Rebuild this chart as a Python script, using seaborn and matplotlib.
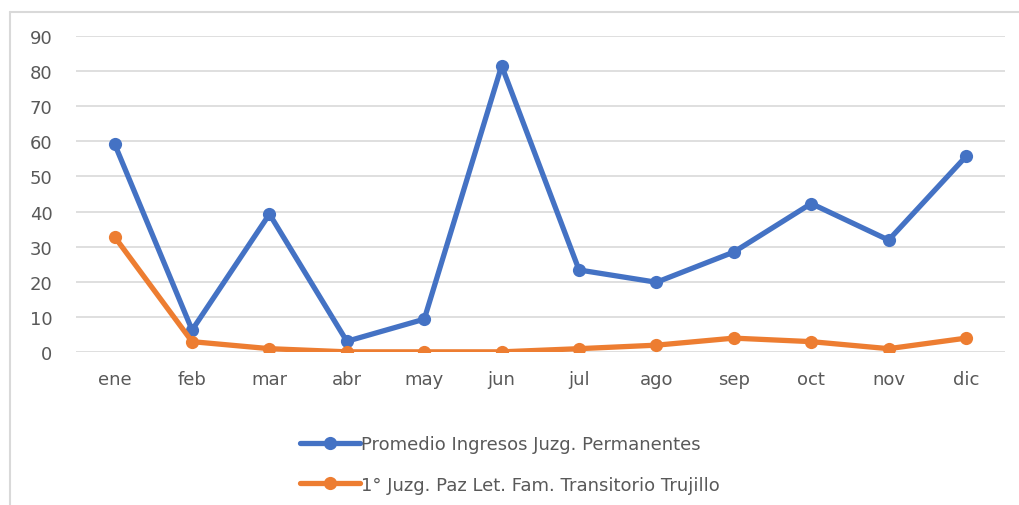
import pandas as pd
import numpy as np
import seaborn as sns
from matplotlib import pyplot as plt
from matplotlib.lines import Line2D

# data
meses = ["ene", "feb", "mar", "abr", "may", "jun", "jul", "ago", "sep", "oct", "nov", "dic"]
promedio = [59.2, 6.3, 39.3, 3.1, 9.4, 81.5, 23.4, 19.9, 28.5, 42.3, 31.9, 55.7]
trujillo = [32.8, 3.0, 1.0, 0.1, 0.1, 0.1, 1.0, 2.0, 4.0, 3.0, 1.0, 4.0]

serie1 = "Promedio Ingresos Juzg. Permanentes"
serie2 = "1° Juzg. Paz Let. Fam. Transitorio Trujillo"

df = pd.DataFrame({"mes": meses * 2,
                   "valor": promedio + trujillo,
                   "serie": [serie1] * 12 + [serie2] * 12})

sns.set_style("white")
plt.rcParams['font.family'] = ['DejaVu Sans']

fig = plt.figure(figsize=(10.2, 5.06), dpi=100)
fig.patch.set_linewidth(0)
ax = fig.add_axes([0.0745, 0.302, 0.9105, 0.625])

sns.lineplot(data=df, x="mes", y="valor", hue="serie", sort=False,
             palette=["#4472C4", "#ED7D31"], marker="o", markersize=9.5,
             markeredgewidth=0, linewidth=3.8, ax=ax, legend=False)

ax.set_xlim(-0.5, 11.5)
ax.set_ylim(0, 90)
ax.set_yticks(np.arange(0, 91, 10))
ax.yaxis.grid(True, color="#D9D9D9", linewidth=1.2)
ax.set_axisbelow(True)
for s in ax.spines.values():
    s.set_visible(False)
ax.set_xlabel("")
ax.set_ylabel("")
ax.tick_params(axis="both", length=0, labelsize=13, labelcolor="#595959")
ax.tick_params(axis="y", pad=17)
ax.tick_params(axis="x", pad=13)

# legend below, stacked
handles = [Line2D([], [], color="#4472C4", lw=3.8, marker="o", markersize=9.5, markeredgewidth=0),
           Line2D([], [], color="#ED7D31", lw=3.8, marker="o", markersize=9.5, markeredgewidth=0)]
fig.legend(handles, [serie1, serie2], loc="center", bbox_to_anchor=(0.5, 0.08),
           ncol=1, frameon=False, fontsize=13, labelcolor="#595959",
           handlelength=3.3, handletextpad=0.1, labelspacing=1.25)

# chart frame: only left and top edges are visible in the crop
x0 = 10.5 / 1020
y0 = 1 - 12.5 / 506
fig.add_artist(Line2D([x0, x0], [0, y0], transform=fig.transFigure, color="#D9D9D9", lw=1.5))
fig.add_artist(Line2D([x0, 1.05], [y0, y0], transform=fig.transFigure, color="#D9D9D9", lw=1.5))

fig.savefig("out.png", dpi=100)
